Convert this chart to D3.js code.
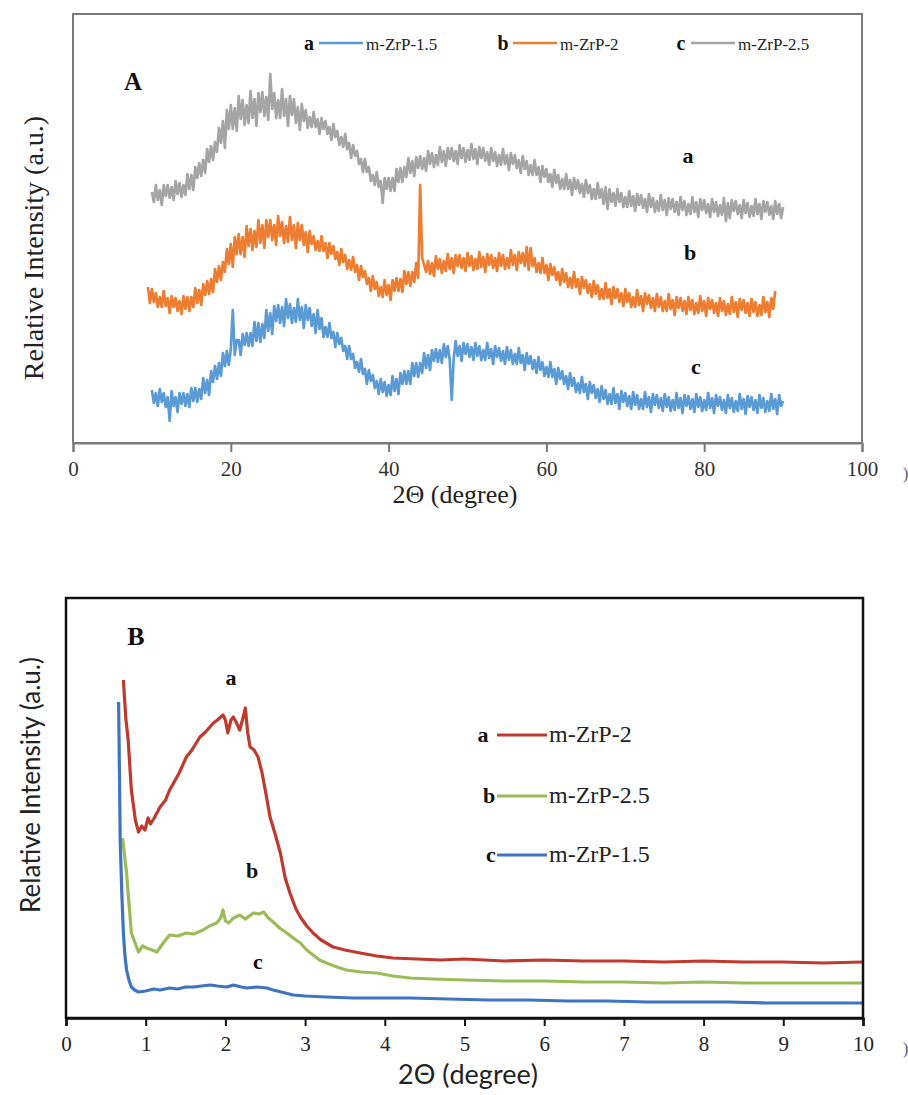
<!DOCTYPE html>
<html><head><meta charset="utf-8">
<script src="https://cdn.jsdelivr.net/npm/d3@7"></script>
<style>body{margin:0;background:#fff}</style>
</head><body>
<svg id="c" width="908" height="1095"></svg>
<script>
// ---------- Panel A: wide-angle XRD (2θ 0–100°), offset curves ----------
const scanStep = 0.25;
const startA_m15 = 10, startA_m2 = 9.5, startA_m25 = 10;
const seriesA_names = ["m-ZrP-1.5", "m-ZrP-2", "m-ZrP-2.5"];
const seriesA_letters = ["a", "b", "c"];
const seriesA_colors = ["#5B9BD5", "#ED7D31", "#A5A5A5"];
const xTicksA = [0, 20, 40, 60, 80, 100];

// m-ZrP-1.5 (blue), 2θ = 10 … 90 every 0.25°
const wideA_m15 = [
 53,40,50,37, 54,41,50,36, 46,22,52,37, 46,31,50,39, 50,37,49,36,
 55,42,55,41, 54,44,65,50, 63,48,72,61, 77,64,80,67, 90,77,92,78,
 94,133,88,103, 103,88,109,98, 110,97,110,97, 121,102,120,101, 119,105,133,112,
 130,109,137,122, 138,120,136,117, 144,125,139,120, 135,121,144,123, 136,115,138,123,
 135,117,129,110, 133,114,125,106, 116,106,120,105, 111,96,110,99, 105,92,97,84,
 97,84,89,75, 81,71,84,69, 74,59,73,62, 68,55,62,49, 64,51,61,47,
 58,48,67,52, 64,49,70,59, 72,59,72,59, 80,67,80,66, 80,70,90,75,
 88,73,93,82, 94,81,93,80, 99,86,97,83, 43,84,102,87, 97,82,100,89,
 99,86,96,83, 100,87,97,83, 93,83,100,85, 94,79,97,86, 95,82,92,79,
 96,83,93,79, 89,79,95,80, 88,73,90,79, 87,74,83,70, 86,73,81,67,
 76,66,81,66, 74,59,75,64, 72,59,67,54, 70,57,65,51, 60,50,66,51,
 59,44,61,50, 58,45,54,41, 57,44,53,39, 49,39,55,40, 49,34,52,41,
 50,37,47,34, 51,38,48,34, 44,34,51,36, 46,31,49,38, 48,35,45,32,
 49,36,46,32, 43,33,50,35, 45,30,48,37, 47,34,44,31, 49,36,46,32,
 43,33,50,35, 45,30,48,37, 46,33,43,30, 48,35,45,31, 42,32,49,34,
 44,29,47,36, 46,33,43,30, 48,35,45,31, 42,32,49,34, 44,29,48,37, 42];

// m-ZrP-2 (orange), 2θ = 9.5 … 89 every 0.25°
const wideA_m2 = [156,140,
 154,141,150,136, 146,136,152,137, 145,130,147,136, 145,132,142,129, 147,134,146,132,
 146,136,155,140, 153,138,159,148, 162,149,164,151, 174,161,177,163, 181,171,194,179,
 199,176,206,189, 209,189,206,186, 217,197,214,193, 212,196,223,200, 218,195,223,206,
 223,203,218,198, 227,207,221,200, 217,201,226,203, 218,195,220,203, 218,198,211,191,
 212,199,207,193, 202,192,207,192, 200,185,200,189, 197,184,191,178, 194,181,188,174,
 183,173,186,171, 178,163,177,166, 172,159,165,152, 167,154,161,147, 156,146,163,148,
 158,143,163,152, 165,152,164,151, 172,159,171,157, 171,161,180,165, 258,185,178,171,
 182,169,180,167, 187,174,184,170, 182,172,189,174, 185,170,188,177, 188,175,185,172,
 190,177,187,173, 184,174,191,176, 186,171,189,178, 188,175,185,172, 190,177,188,174,
 185,175,193,178, 188,173,191,180, 190,177,196,173, 195,177,185,171, 180,170,185,170,
 178,163,179,168, 176,163,171,158, 174,161,170,156, 165,155,171,156, 164,149,166,155,
 163,150,159,146, 162,149,158,144, 154,144,160,145, 154,139,156,145, 154,141,150,137,
 154,141,150,136, 146,136,153,138, 147,132,150,139, 148,135,145,132, 149,136,146,132,
 142,132,149,134, 143,128,146,135, 145,132,142,129, 146,133,143,129, 140,130,147,132,
 142,127,145,134, 143,130,140,127, 145,132,142,128, 139,129,146,131, 141,126,144,133,
 143,130,140,127, 144,131,141,127, 138,128,146,131, 141,126,145,134, 152];

// m-ZrP-2.5 (grey), 2θ = 10 … 90 every 0.25°
const wideA_m25 = [
 251,241,258,243, 253,238,258,247, 258,245,256,243, 262,249,260,246, 258,248,269,254,
 268,253,276,265, 280,267,283,270, 294,281,297,283, 301,291,315,300, 322,295,333,314,
 338,314,335,312, 347,324,343,318, 338,320,352,325, 344,317,350,331, 351,327,346,323,
 369,334,350,325, 343,325,354,327, 344,317,347,328, 344,320,336,313, 339,322,333,315,
 326,316,331,316, 324,309,325,314, 322,309,316,303, 319,306,312,298, 306,296,309,294,
 300,285,298,287, 292,279,284,271, 284,271,276,262, 268,258,271,256, 262,240,265,254,
 265,252,265,252, 274,261,275,261, 276,266,285,270, 282,267,286,275, 287,274,285,272,
 292,279,290,276, 288,278,296,281, 292,277,295,284, 295,282,292,279, 298,285,295,281,
 293,283,299,284, 294,279,296,285, 295,282,291,278, 295,282,291,277, 288,278,294,279,
 288,273,290,279, 288,275,283,270, 287,274,282,268, 278,268,283,268, 276,261,277,266,
 274,261,269,256, 273,260,268,254, 264,254,269,254, 263,248,265,254, 263,250,259,246,
 263,250,258,244, 254,244,260,245, 254,239,256,234, 254,241,250,237, 254,241,250,236,
 246,236,252,237, 247,232,249,238, 248,235,244,231, 249,236,245,231, 242,232,248,233,
 243,228,245,234, 244,231,241,228, 246,233,242,228, 239,229,246,231, 241,226,244,233,
 243,230,239,226, 244,231,241,227, 238,228,245,222, 240,225,243,232, 242,229,238,225,
 243,230,240,226, 237,227,244,229, 239,224,242,231, 241,228,237,224, 242,229,239,225, 236];

// ---------- Panel B: small-angle XRD (2θ 0–10°) ----------
const seriesB_names = ["m-ZrP-2", "m-ZrP-2.5", "m-ZrP-1.5"];
const seriesB_letters = ["a", "b", "c"];
const seriesB_colors = ["#C0392F", "#9BBB59", "#3F74C0"];
const xTicksB = [0,1,2,3,4,5,6,7,8,9,10];

const smallB_m2_x = [0.72,0.75,0.78,0.82,0.87,0.91,0.95,0.99,1.03,1.06,1.1,1.18,1.25,1.3,1.35,1.42,1.51,1.58,1.68,1.75,1.85,1.9,1.97,2.0,2.03,2.07,2.1,2.14,2.18,2.22,2.25,2.28,2.31,2.36,2.41,2.46,2.5,2.56,2.62,2.69,2.75,2.81,2.88,2.94,3.02,3.1,3.2,3.35,3.5,3.69,3.9,4.1,4.4,4.7,5.0,5.5,6.0,6.5,7.0,7.5,8.0,8.5,9.0,9.5,10];
const smallB_m2_y = [338,300,278,228,198,186,192,188,200,194,199,211,218,228,235,245,261,268,281,286,295,298,303,298,285,298,301,295,288,300,310,285,271,268,261,245,228,201,185,165,140,125,110,101,92,85,78,71,68,65,62,60,59,58,59,57,58,57,57,56,57,56,56,55,56];

const smallB_m25_x = [0.71,0.76,0.82,0.91,0.96,1.01,1.08,1.14,1.22,1.3,1.4,1.51,1.6,1.72,1.8,1.89,1.94,1.97,2.0,2.04,2.1,2.18,2.25,2.35,2.42,2.48,2.54,2.6,2.68,2.77,2.85,2.94,3.02,3.1,3.18,3.27,3.4,3.52,3.7,3.9,4.1,4.32,4.6,5.0,5.5,6.0,6.5,7.0,7.5,8.0,8.5,9.0,9.5,10];
const smallB_m25_y = [180,145,85,66,72,70,68,66,75,83,82,85,84,88,92,95,100,108,97,95,100,103,99,105,104,106,100,96,90,85,80,75,68,63,58,55,51,48,46,45,42,40,39,38,37,37,36,36,35,36,35,35,35,35];

const smallB_m15_x = [0.66,0.67,0.68,0.7,0.72,0.74,0.76,0.79,0.82,0.86,0.91,1.0,1.1,1.18,1.3,1.4,1.5,1.6,1.7,1.81,1.9,2.02,2.1,2.2,2.27,2.4,2.52,2.6,2.7,2.85,3.0,3.27,3.6,4.0,4.32,4.8,5.3,5.8,6.3,6.8,7.3,7.8,8.3,8.8,9.3,10];
const smallB_m15_y = [316,250,178,125,85,62,48,38,31,28,26,27,29,28,30,29,31,31,32,33,32,31,33,31,30,31,30,28,26,23,22,21,20,20,20,19,18,18,17,17,16,16,16,15,15,15];

// ---------- drawing ----------
const svg = d3.select("#c");
const serif = "'Liberation Serif','Times New Roman',serif";
const sans = "Lato,'Open Sans',sans-serif";

// ===== Panel A =====
const A = {l:73, r:862, t:14, b:443};
const xA = d3.scaleLinear().domain([0,100]).range([A.l, A.r]);
const yA = d3.scaleLinear().domain([0,429]).range([A.b, A.t]);
const gA = svg.append("g");

const curvesA = [
  {vals: wideA_m15, start: startA_m15, i: 0},
  {vals: wideA_m2, start: startA_m2, i: 1},
  {vals: wideA_m25, start: startA_m25, i: 2}
];
const lineA = d3.line().x(d => xA(d[0])).y(d => yA(d[1]));
curvesA.forEach(c => {
  const pts = c.vals.map((v, k) => [c.start + k*scanStep, v]);
  gA.append("path").datum(pts).attr("d", lineA)
    .attr("fill","none").attr("stroke", seriesA_colors[c.i])
    .attr("stroke-width", 2.7).attr("stroke-linejoin","round");
});

gA.append("rect").attr("x",A.l).attr("y",A.t).attr("width",A.r-A.l).attr("height",A.b-A.t)
  .attr("fill","none").attr("stroke","#7a7a7a").attr("stroke-width",2);

const axA = gA.append("g").attr("transform",`translate(0,${A.b})`)
  .call(d3.axisBottom(xA).tickValues(xTicksA).tickSize(9).tickPadding(9).tickFormat(d3.format("d")));
axA.attr("font-family", serif);
axA.select(".domain").attr("stroke","#7a7a7a").attr("stroke-width",2);
axA.selectAll(".tick line").attr("stroke","#7a7a7a").attr("stroke-width",2);
axA.selectAll(".tick text").style("font-family",serif).attr("font-size",21).attr("fill","#333");

gA.append("text").attr("x",903).attr("y",473).attr("dominant-baseline","central")
  .style("font-family",serif).attr("font-size",16).attr("fill","#555").text(")");

gA.append("text").attr("x",455).attr("y",494).attr("text-anchor","middle").attr("dominant-baseline","central")
  .style("font-family",serif).attr("font-size",26).attr("fill","#222").text("2Θ (degree)");
gA.append("text").attr("transform","translate(33,248) rotate(-90)").attr("text-anchor","middle")
  .attr("dominant-baseline","central").style("font-family",serif).attr("font-size",28).attr("fill","#222")
  .text("Relative Intensity (a.u.)");

gA.append("text").attr("x",133).attr("y",81).attr("text-anchor","middle").attr("dominant-baseline","central")
  .style("font-family",serif).attr("font-weight","bold").attr("font-size",25).attr("fill","#111").text("A");

// legend A
const legA_x = [309, 503, 681];
seriesA_names.forEach((n, i) => {
  const g = gA.append("g");
  g.append("text").attr("x",legA_x[i]).attr("y",43).attr("text-anchor","middle").attr("dominant-baseline","central")
    .style("font-family",serif).attr("font-weight","bold").attr("font-size",20).attr("fill","#111").text(seriesA_letters[i]);
  g.append("line").attr("x1",legA_x[i]+10).attr("x2",legA_x[i]+54).attr("y1",43).attr("y2",43)
    .attr("stroke",seriesA_colors[i]).attr("stroke-width",2.6);
  g.append("text").attr("x",legA_x[i]+57).attr("y",44).attr("dominant-baseline","central")
    .style("font-family",serif).attr("font-size",17).attr("fill","#222").text(n);
});
const curveLblA = [["a",688,155],["b",690,252],["c",696,366]];
curveLblA.forEach(l => gA.append("text").attr("x",l[1]).attr("y",l[2]).attr("text-anchor","middle")
  .attr("dominant-baseline","central").style("font-family",serif).attr("font-weight","bold")
  .attr("font-size",22).attr("fill","#111").text(l[0]));

// ===== Panel B =====
const B = {l:66, r:863, t:598, b:1018};
const xB = d3.scaleLinear().domain([0,10]).range([B.l, B.r]);
const yB = d3.scaleLinear().domain([0,420]).range([B.b, B.t]);
const gB = svg.append("g");
const lineB = d3.line().x(d => xB(d[0])).y(d => yB(d[1]));
const curvesB = [
  [smallB_m2_x, smallB_m2_y, 0],
  [smallB_m25_x, smallB_m25_y, 1],
  [smallB_m15_x, smallB_m15_y, 2]
];
curvesB.forEach(c => {
  const pts = c[0].map((x, k) => [x, c[1][k]]);
  gB.append("path").datum(pts).attr("d", lineB).attr("fill","none")
    .attr("stroke", seriesB_colors[c[2]]).attr("stroke-width",3.2).attr("stroke-linejoin","round");
});

gB.append("rect").attr("x",B.l).attr("y",B.t).attr("width",B.r-B.l).attr("height",B.b-B.t)
  .attr("fill","none").attr("stroke","#111").attr("stroke-width",2.5);
const axB = gB.append("g").attr("transform",`translate(0,${B.b})`)
  .call(d3.axisBottom(xB).tickValues(xTicksB).tickSize(8).tickPadding(10).tickFormat(d3.format("d")));
axB.attr("font-family", serif);
axB.select(".domain").attr("stroke","#111").attr("stroke-width",2.5);
axB.selectAll(".tick line").attr("stroke","#111").attr("stroke-width",2);
axB.selectAll(".tick text").style("font-family",serif).attr("font-size",21).attr("fill","#222");

gB.append("text").attr("x",903).attr("y",1048).attr("dominant-baseline","central")
  .style("font-family",serif).attr("font-size",16).attr("fill","#555").text(")");

gB.append("text").attr("x",468).attr("y",1073).attr("text-anchor","middle").attr("dominant-baseline","central")
  .style("font-family",sans).attr("font-size",27).attr("fill","#222").text("2Θ (degree)");
gB.append("text").attr("transform","translate(30,785) rotate(-90)").attr("text-anchor","middle")
  .attr("dominant-baseline","central").style("font-family",sans).attr("font-size",26).attr("fill","#222")
  .text("Relative Intensity (a.u.)");

gB.append("text").attr("x",136).attr("y",636).attr("text-anchor","middle").attr("dominant-baseline","central")
  .style("font-family",serif).attr("font-weight","bold").attr("font-size",26).attr("fill","#111").text("B");

const legB_y = [734, 795, 854];
const legB_lx = [483, 489, 491];
seriesB_names.forEach((n, i) => {
  gB.append("text").attr("x",legB_lx[i]).attr("y",legB_y[i]).attr("text-anchor","middle").attr("dominant-baseline","central")
    .style("font-family",serif).attr("font-weight","bold").attr("font-size",22).attr("fill","#111").text(seriesB_letters[i]);
  gB.append("line").attr("x1",497).attr("x2",547).attr("y1",legB_y[i]+1).attr("y2",legB_y[i]+1)
    .attr("stroke",seriesB_colors[i]).attr("stroke-width",3.2);
  gB.append("text").attr("x",549).attr("y",legB_y[i]).attr("dominant-baseline","central")
    .style("font-family",serif).attr("font-size",24).attr("fill","#222").text(n);
});
const curveLblB = [["a",231,677],["b",252,870],["c",258,961]];
curveLblB.forEach(l => gB.append("text").attr("x",l[1]).attr("y",l[2]).attr("text-anchor","middle")
  .attr("dominant-baseline","central").style("font-family",serif).attr("font-weight","bold")
  .attr("font-size",22).attr("fill","#111").text(l[0]));
</script>
</body></html>
